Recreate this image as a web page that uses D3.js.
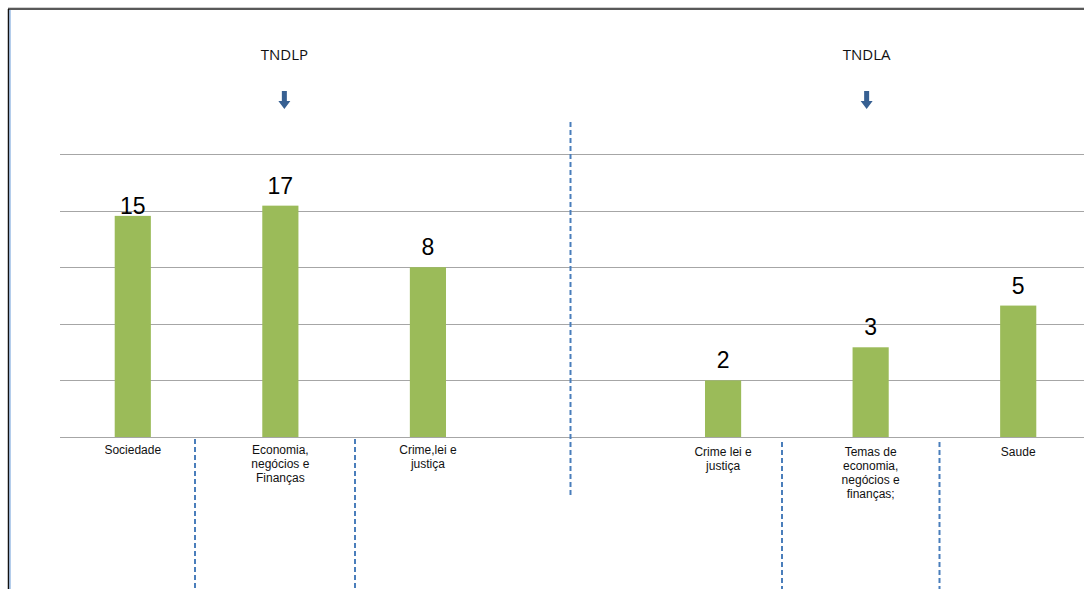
<!DOCTYPE html>
<html>
<head>
<meta charset="utf-8">
<script src="https://cdn.jsdelivr.net/npm/d3@7"></script>
<style>
  body { margin: 0; background: #fff; }
  svg { display: block; }
</style>
</head>
<body>
<div id="grafico"></div>
<script>
// dados do grafico
const categorias = ["Sociedade", "Economia,|negócios e|Finanças", "Crime,lei e|justiça", "", "Crime lei e|justiça", "Temas de|economia,|negócios e|finanças;", "Saude"];
const valores = [15, 17, 8, null, 2, 3, 5];
const grupos = ["TNDLP", "TNDLA"];
const gruposCentro = [1, 5]; // indice da categoria sob o titulo
const linhasGrade = [1, 2, 4, 8, 16, 32];

const largura = 1084, altura = 589;
const margem = { top: 154, bottom: 152, left: 59, right: -8 };

const svg = d3.select("#grafico").append("svg")
    .attr("width", largura)
    .attr("height", altura);

// moldura
svg.append("line").attr("x1", 8).attr("x2", largura).attr("y1", 7.5).attr("y2", 7.5)
    .attr("stroke", "#d0d0d0").attr("stroke-width", 1);
svg.append("line").attr("x1", 8).attr("x2", largura).attr("y1", 9).attr("y2", 9)
    .attr("stroke", "#222").attr("stroke-width", 1.5);
svg.append("line").attr("x1", 8.5).attr("x2", 8.5).attr("y1", 9).attr("y2", altura)
    .attr("stroke", "#111").attr("stroke-width", 1.5);
svg.append("line").attr("x1", 10).attr("x2", 10).attr("y1", 10).attr("y2", altura)
    .attr("stroke", "#6a9bd8").attr("stroke-width", 1);

const x = d3.scaleBand()
    .domain(d3.range(categorias.length))
    .range([margem.left, largura - margem.right])
    .paddingInner(0.755)
    .paddingOuter(0.3775);

// escala log base 2 (grade em potencias de 2)
const y = d3.scaleLog().base(2)
    .domain([1, 32])
    .range([altura - margem.bottom, margem.top]);

// grade
svg.append("g")
    .selectAll("line")
    .data(linhasGrade)
    .enter().append("line")
    .attr("x1", 60)
    .attr("x2", largura)
    .attr("y1", d => Math.round(y(d)) + 0.5)
    .attr("y2", d => Math.round(y(d)) + 0.5)
    .attr("stroke", "#a6a6a6")
    .attr("stroke-width", 1);

const dados = categorias.map((c, i) => ({ i: i, cat: c, valor: valores[i] })).filter(d => d.valor !== null);

// barras
svg.append("g")
    .selectAll("rect")
    .data(dados)
    .enter().append("rect")
    .attr("x", d => x(d.i))
    .attr("width", x.bandwidth())
    .attr("y", d => y(d.valor))
    .attr("height", d => y(1) - y(d.valor))
    .attr("fill", "#9bbb59");

// rotulos de valor (o "15" fica encostado na barra, como no original)
const afastamento = d => d.valor === 15 ? 2 : 12;
svg.append("g")
    .selectAll("text")
    .data(dados)
    .enter().append("text")
    .attr("x", d => x(d.i) + x.bandwidth() / 2)
    .attr("y", d => y(d.valor) - afastamento(d))
    .attr("text-anchor", "middle")
    .style("font-family", "'Liberation Sans', Arial, sans-serif")
    .style("font-size", "23px")
    .style("fill", "#000")
    .text(d => d.valor);

// rotulos das categorias
const rotulos = svg.append("g")
    .selectAll("text")
    .data(dados)
    .enter().append("text")
    .attr("text-anchor", "middle")
    .style("font-family", "'Liberation Sans', Arial, sans-serif")
    .style("font-size", "12px")
    .style("fill", "#111");

rotulos.each(function (d) {
    const t = d3.select(this);
    const off = d.i >= 4 ? 19 : 17;
    d.cat.split("|").forEach((linha, k) => {
        t.append("tspan")
            .attr("x", x(d.i) + x.bandwidth() / 2)
            .attr("y", y(1) + off + k * 14)
            .text(linha);
    });
});

// titulos e setas
grupos.forEach((g, k) => {
    const cx = x(gruposCentro[k]) + x.bandwidth() / 2 + (k === 0 ? 4 : -4);
    svg.append("text")
        .attr("x", cx)
        .attr("y", 60)
        .attr("text-anchor", "middle")
        .style("font-family", "'Open Sans', Lato, sans-serif")
        .style("font-size", "15px")
        .style("fill", "#111")
        .text(g);
    svg.append("path")
        .attr("d", `M${cx - 2.5},91 h5 v10 h3.5 l-6,8 l-6,-8 h3.5 z`)
        .attr("fill", "#376092");
});

// separadores tracejados
const separadores = [
    { x: 195, y1: 439, y2: altura },
    { x: 355, y1: 439, y2: altura },
    { x: 570.5, y1: 122, y2: 498 },
    { x: 782, y1: 442, y2: altura },
    { x: 939.5, y1: 442, y2: altura }
];
svg.append("g")
    .selectAll("line")
    .data(separadores)
    .enter().append("line")
    .attr("x1", d => d.x)
    .attr("x2", d => d.x)
    .attr("y1", d => d.y1)
    .attr("y2", d => d.y2)
    .attr("stroke", "#4a7ebb")
    .attr("stroke-width", 2)
    .attr("stroke-dasharray", "5,3");
</script>
</body>
</html>
